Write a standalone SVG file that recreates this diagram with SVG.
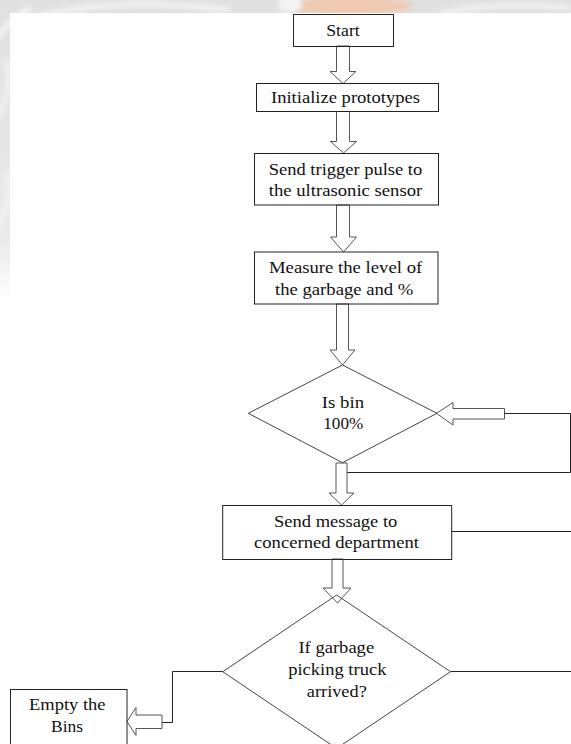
<svg xmlns="http://www.w3.org/2000/svg" width="571" height="744" viewBox="0 0 571 744">
<defs>
<style>
.box{fill:none;stroke:#222;stroke-width:1}
.dia{fill:none;stroke:#444;stroke-width:1}
.blk{fill:none;stroke:#555;stroke-width:1}
.ln{fill:none;stroke:#222;stroke-width:1}
.t{font-size:17px;fill:#111;text-anchor:middle}
</style>
<filter id="blur" x="-20%" y="-50%" width="140%" height="200%"><feGaussianBlur stdDeviation="2.5"/></filter>
<linearGradient id="fade" x1="0" y1="0" x2="0" y2="1">
<stop offset="0" stop-color="#e0e0e0"/>
<stop offset="0.8" stop-color="#eaeaea"/>
<stop offset="1" stop-color="#ffffff"/>
</linearGradient>
<clipPath id="wmclip"><path d="M0 0H571V13H10V300H0Z"/></clipPath>
</defs>
<rect width="571" height="744" fill="#fff"/>
<g id="watermark" clip-path="url(#wmclip)">
<rect x="0" y="0" width="571" height="300" fill="url(#fade)"/>
<g filter="url(#blur)">
<path d="M40 16 Q120 -4 230 10" stroke="#f4f4f4" stroke-width="5" fill="none"/>
<path d="M-5 40 Q10 20 30 8" stroke="#f6f6f6" stroke-width="5" fill="none"/>
<path d="M-4 120 Q14 90 6 60" stroke="#f4f4f4" stroke-width="4" fill="none"/>
<path d="M-4 230 Q14 200 6 170" stroke="#f4f4f4" stroke-width="4" fill="none"/>
<path d="M440 14 Q500 0 571 8" stroke="#f3f3f3" stroke-width="5" fill="none"/>
<ellipse cx="350" cy="6" rx="62" ry="9" fill="#efc9b0"/>
<ellipse cx="290" cy="4" rx="12" ry="8" fill="#f4f4f4"/>
</g>
</g>
<g id="connectors">
<polygon class="blk" points="336.5,46 349.5,46 349.5,71.5 356,71.5 343,83.5 330,71.5 336.5,71.5"/>
<polygon class="blk" points="336.5,111.5 349.5,111.5 349.5,141.5 356.5,141.5 343.5,153 330.5,141.5 336.5,141.5"/>
<polygon class="blk" points="336.5,205 349.5,205 349.5,237 356.5,237 343.5,252 330.5,237 336.5,237"/>
<polygon class="blk" points="336.5,304 348.5,304 348.5,350 355,350 342.5,365 330,350 336.5,350"/>
<polygon class="blk" points="504.5,408.5 504.5,419 453,419 453,425 436.5,413.3 453,402.5 453,408.5"/>
<polyline class="ln" points="504.5,413.5 570.5,413.5 570.5,472.5 347,472.5"/>
<polygon class="blk" points="336,463 347,463 347,493 354,493 341.5,505 329,493 336,493"/>
<line class="ln" x1="452" y1="531.5" x2="571" y2="531.5"/>
<polygon class="blk" points="332,559 343,559 343,588 351,588 337.5,603 323,588 332,588"/>
<line class="ln" x1="450.5" y1="671.5" x2="571" y2="671.5"/>
<polyline class="ln" points="222.7,671.5 172.5,671.5 172.5,722.5 162,722.5"/>
<polygon class="blk" points="162,715 162,728.5 136,728.5 136,735.5 127,721.5 136,707.5 136,715"/>
</g>
<g font-family="Liberation Serif, DejaVu Serif, Times New Roman, serif">
<g id="start">
<rect class="box" x="293.5" y="14.5" width="100" height="32"/>
<text class="t" x="343" y="35.5" textLength="33.5" lengthAdjust="spacingAndGlyphs">Start</text>
</g>
<g id="init">
<rect class="box" x="256.5" y="83.5" width="182" height="28"/>
<text class="t" x="345.5" y="103" textLength="149" lengthAdjust="spacingAndGlyphs">Initialize prototypes</text>
</g>
<g id="trigger">
<rect class="box" x="254.5" y="153.5" width="184" height="51.5"/>
<text class="t" x="345.5" y="174.5" textLength="153.5" lengthAdjust="spacingAndGlyphs">Send trigger pulse to</text>
<text class="t" x="345.5" y="196" textLength="153.5" lengthAdjust="spacingAndGlyphs">the ultrasonic sensor</text>
</g>
<g id="measure">
<rect class="box" x="254.5" y="252" width="183.5" height="52"/>
<text class="t" x="345.6" y="273" textLength="153.3" lengthAdjust="spacingAndGlyphs">Measure the level of</text>
<text class="t" x="344.2" y="294.5" textLength="138.3" lengthAdjust="spacingAndGlyphs">the garbage and %</text>
</g>
<g id="decision-bin">
<polygon class="dia" points="342.5,365 437,413.3 342.5,462.7 248.3,413.3"/>
<text class="t" x="343" y="407.5" textLength="42.3" lengthAdjust="spacingAndGlyphs">Is bin</text>
<text class="t" x="343.3" y="429" textLength="40" lengthAdjust="spacingAndGlyphs">100%</text>
</g>
<g id="send-message">
<rect class="box" x="222.7" y="505.5" width="229" height="54"/>
<text class="t" x="335.7" y="526.5" textLength="123.3" lengthAdjust="spacingAndGlyphs">Send message to</text>
<text class="t" x="336.5" y="548" textLength="165" lengthAdjust="spacingAndGlyphs">concerned department</text>
</g>
<g id="decision-truck">
<polygon class="dia" points="336.6,595 450.5,671.7 336.6,748.4 222.7,671.7"/>
<text class="t" x="336.3" y="653" textLength="75.7" lengthAdjust="spacingAndGlyphs">If garbage</text>
<text class="t" x="337.3" y="675" textLength="98.3" lengthAdjust="spacingAndGlyphs">picking truck</text>
<text class="t" x="336.8" y="697" textLength="60" lengthAdjust="spacingAndGlyphs">arrived?</text>
</g>
<g id="empty-bins">
<rect class="box" x="10.5" y="689.5" width="116.5" height="70"/>
<text class="t" x="67.3" y="710" textLength="76.4" lengthAdjust="spacingAndGlyphs">Empty the</text>
<text class="t" x="67" y="731.7" textLength="32" lengthAdjust="spacingAndGlyphs">Bins</text>
</g>
</g>
</svg>
